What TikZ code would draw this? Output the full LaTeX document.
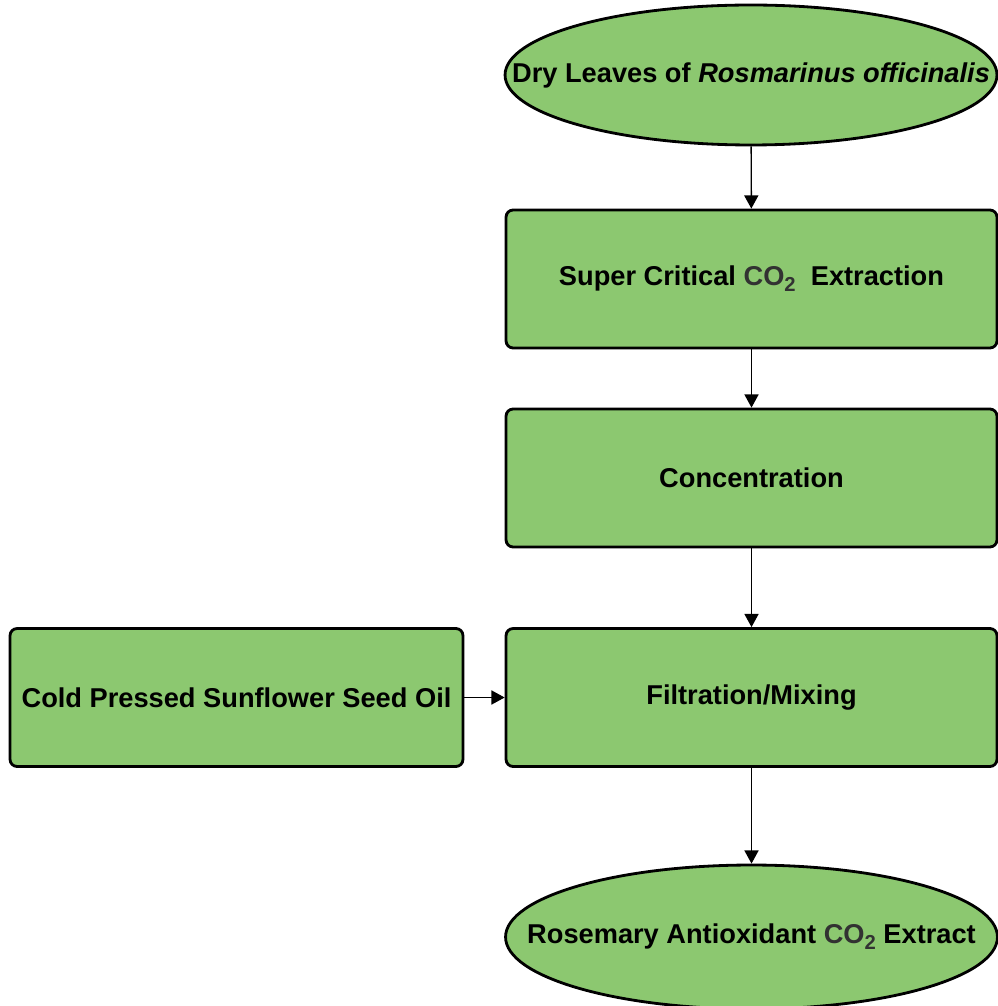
\documentclass[tikz,border=0pt]{standalone}
\usepackage{fontspec}
\setmainfont{Liberation Sans}
\usetikzlibrary{shapes.geometric,arrows.meta}
\definecolor{leafgreen}{RGB}{140,200,112}
\definecolor{cogray}{RGB}{50,50,50}
\newcommand{\cotwo}{\textcolor{cogray}{CO\raisebox{-3.5pt}{\fontsize{11.5}{12}\selectfont 2}}}
\tikzset{
  procbox/.style={draw, line width=1.6pt, fill=leafgreen, rounded corners=4pt,
    minimum width=9.82cm, minimum height=2.76cm, inner sep=0pt,
    font=\fontsize{15.5}{18}\selectfont\bfseries},
  terminal/.style={draw, ellipse, line width=1.6pt, fill=leafgreen,
    minimum width=9.84cm, minimum height=2.8cm, inner sep=0pt},
  termtext/.style={font=\fontsize{15.5}{18}\selectfont\bfseries},
  flow/.style={-{Triangle[length=7.5pt,width=8pt]}, line width=0.8pt}
}
\begin{document}
\begin{tikzpicture}[x=0.02cm, y=-0.02cm]
\useasboundingbox (0,0) rectangle (997,1006);

\node[terminal] (dry) at (751,75) {};
\node[termtext] (drytext) at (dry.center) {Dry Leaves of \textit{Rosmarinus officinalis}};

\node[procbox] (sfe) at (751.5,279) {Super Critical \cotwo{}\ \ Extraction};
\node[procbox] (conc) at (751.5,478) {Concentration};
\node[procbox] (filt) at (751.5,697.5) {Filtration/Mixing};
\node[procbox, minimum width=9.06cm] (oil) at (236.5,697.5) {Cold Pressed Sunflower Seed Oil};

\node[terminal, minimum height=2.88cm] (ext) at (751.5,937) {};
\node[termtext] (exttext) at (ext.center) {Rosemary Antioxidant \cotwo{} Extract};

\draw[flow] (dry) -- (sfe);
\draw[flow] (sfe) -- (conc);
\draw[flow] (conc) -- (filt);
\draw[flow] (oil) -- (filt);
\draw[flow] (filt) -- (ext);
\end{tikzpicture}
\end{document}
